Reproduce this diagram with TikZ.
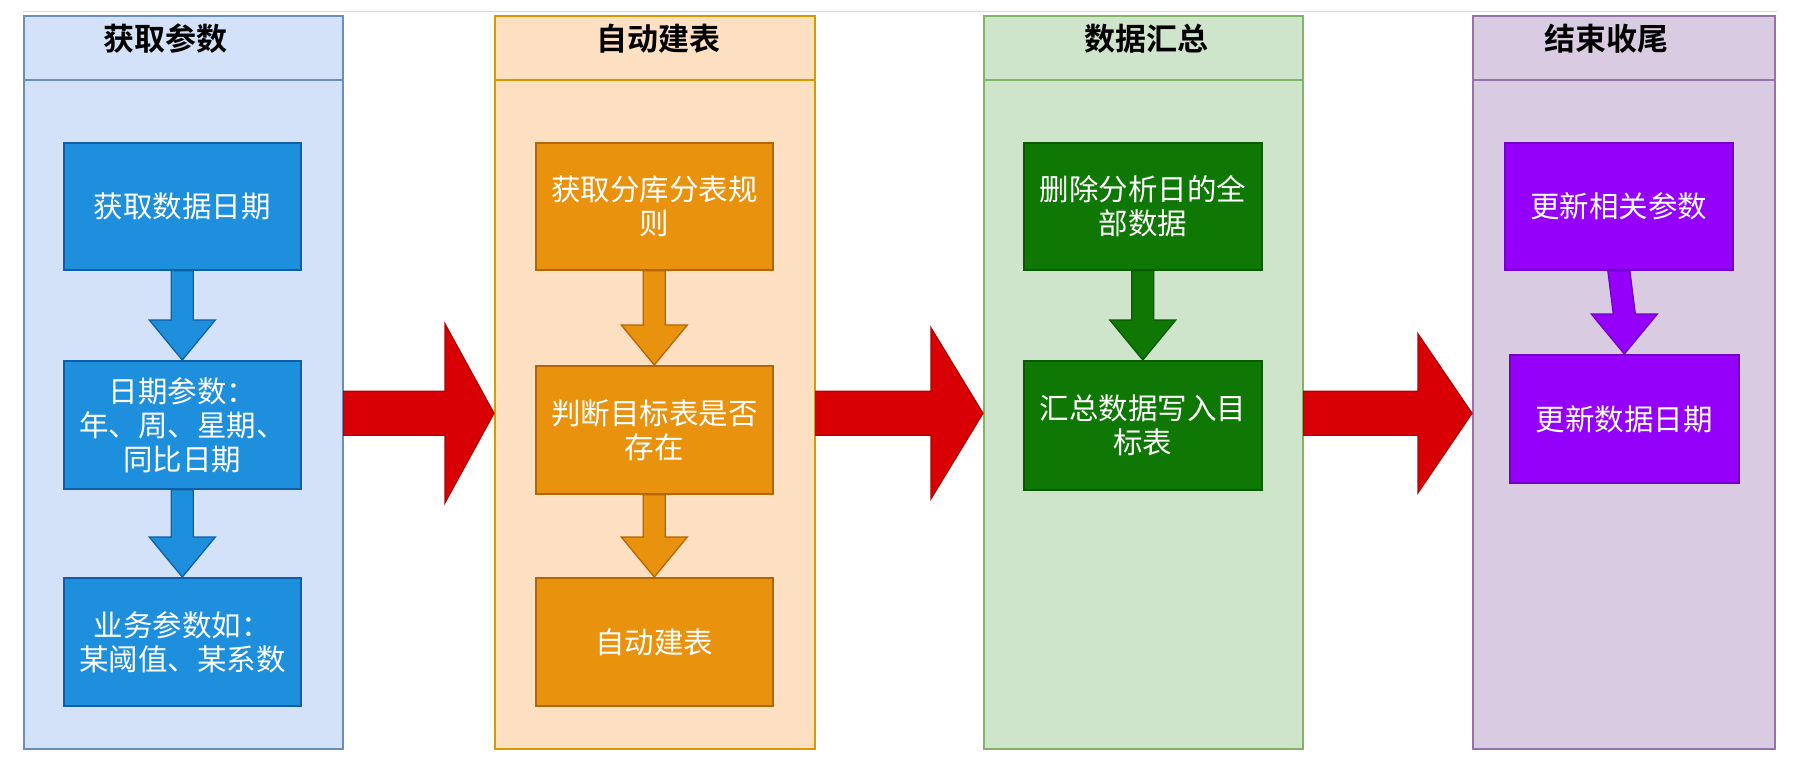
\documentclass[tikz,border=0pt]{standalone}
\usepackage{fontspec}
\setmainfont{Noto Sans CJK SC}[BoldFont={Noto Sans CJK SC Bold}]
\usetikzlibrary{calc}
\definecolor{laneAfill}{HTML}{D3E2F8}
\definecolor{laneAdraw}{HTML}{6C8EBF}
\definecolor{laneBfill}{HTML}{FDDFC2}
\definecolor{laneBdraw}{HTML}{D79B00}
\definecolor{laneCfill}{HTML}{CFE5CB}
\definecolor{laneCdraw}{HTML}{82B366}
\definecolor{laneDfill}{HTML}{D9CBE1}
\definecolor{laneDdraw}{HTML}{9673A6}
\definecolor{boxAfill}{HTML}{1E8FDD}
\definecolor{boxAdraw}{HTML}{0E5FA8}
\definecolor{boxBfill}{HTML}{E8920E}
\definecolor{boxBdraw}{HTML}{B46504}
\definecolor{boxCfill}{HTML}{0F7805}
\definecolor{boxCdraw}{HTML}{0A5A03}
\definecolor{boxDfill}{HTML}{9500FA}
\definecolor{boxDdraw}{HTML}{7300C8}
\definecolor{redfill}{HTML}{D90005}
\definecolor{reddraw}{HTML}{B00000}
\newcommand{\vblock}[3]{%
  \draw[#1] let \p1=(#2.south), \p2=(#3.north) in
    (\x1-11pt,\y1) -- (\x1+11pt,\y1) -- (\x2+11pt,\y2+40pt) -- (\x2+33pt,\y2+40pt)
    -- (\x2,\y2) -- (\x2-33pt,\y2+40pt) -- (\x2-11pt,\y2+40pt) -- cycle;}
\newcommand{\hblock}[4]{%
  \draw[redarrow] let \p1=($(#1.east)+(0,31)$), \p2=($(#2.west)+(0,31)$) in
    (\x1,\y1+22pt) -- (\x2-#4pt,\y1+22pt) -- (\x2-#4pt,\y1+#3pt) -- (\x2,\y2)
    -- (\x2-#4pt,\y1-#3pt) -- (\x2-#4pt,\y1-22pt) -- (\x1,\y1-22pt) -- cycle;}
\begin{document}
\begin{tikzpicture}[x=1pt,y=-1pt,
  lane/.style={draw, line width=1.6pt, anchor=north west, inner sep=0pt, minimum height=733pt},
  head/.style={draw, line width=1.6pt, anchor=north west, inner sep=0pt, minimum height=64pt},
  title/.style={font=\fontsize{31}{36}\selectfont\bfseries, anchor=center, inner sep=0pt},
  stepbox/.style={draw, line width=1.6pt, anchor=north west, inner sep=0pt, text=white,
    align=center, minimum height=127pt, font=\fontsize{29.5}{34}\selectfont},
  redarrow/.style={fill=redfill, draw=reddraw, line width=1.2pt, line join=miter},
  arrA/.style={fill=boxAfill, draw=boxAdraw, line width=1.3pt},
  arrB/.style={fill=boxBfill, draw=boxBdraw, line width=1.3pt},
  arrC/.style={fill=boxCfill, draw=boxCdraw, line width=1.3pt},
  arrD/.style={fill=boxDfill, draw=boxDdraw, line width=1.3pt}]
\useasboundingbox (0,0) rectangle (1802,774);
\fill[white] (0,0) rectangle (1802,774);
\draw[black!15, line width=0.8pt] (23,11) -- (1777,11);

% lanes
\node[lane, fill=laneAfill, draw=laneAdraw, minimum width=319pt] (L1) at (23,15) {};
\node[head, fill=laneAfill, draw=laneAdraw, minimum width=319pt] (H1) at (23,15) {};
\node[title] (T1) at (165,39) {获取参数};

\node[lane, fill=laneBfill, draw=laneBdraw, minimum width=320pt] (L2) at (494,15) {};
\node[head, fill=laneBfill, draw=laneBdraw, minimum width=320pt] (H2) at (494,15) {};
\node[title] (T2) at (658,39) {自动建表};

\node[lane, fill=laneCfill, draw=laneCdraw, minimum width=319pt] (L3) at (983,15) {};
\node[head, fill=laneCfill, draw=laneCdraw, minimum width=319pt] (H3) at (983,15) {};
\node[title] (T3) at (1146,39) {数据汇总};

\node[lane, fill=laneDfill, draw=laneDdraw, minimum width=302pt] (L4) at (1472,15) {};
\node[head, fill=laneDfill, draw=laneDdraw, minimum width=302pt] (H4) at (1472,15) {};
\node[title] (T4) at (1606,39) {结束收尾};

% boxes lane 1
\node[stepbox, fill=boxAfill, draw=boxAdraw, minimum width=237pt] (A1) at (63,142) {获取数据日期};
\node[stepbox, fill=boxAfill, draw=boxAdraw, minimum width=237pt, minimum height=128pt] (A2) at (63,360) {日期参数：\\年、周、星期、\\同比日期};
\node[stepbox, fill=boxAfill, draw=boxAdraw, minimum width=237pt, minimum height=128pt] (A3) at (63,577) {业务参数如：\\某阈值、某系数};

% boxes lane 2
\node[stepbox, fill=boxBfill, draw=boxBdraw, minimum width=237pt] (B1) at (535,142) {获取分库分表规\\则};
\node[stepbox, fill=boxBfill, draw=boxBdraw, minimum width=237pt, minimum height=128pt] (B2) at (535,365) {判断目标表是否\\存在};
\node[stepbox, fill=boxBfill, draw=boxBdraw, minimum width=237pt, minimum height=128pt] (B3) at (535,577) {自动建表};

% boxes lane 3
\node[stepbox, fill=boxCfill, draw=boxCdraw, minimum width=238pt] (C1) at (1023,142) {删除分析日的全\\部数据};
\node[stepbox, fill=boxCfill, draw=boxCdraw, minimum width=238pt, minimum height=129pt] (C2) at (1023,360) {汇总数据写入目\\标表};

% boxes lane 4
\node[stepbox, fill=boxDfill, draw=boxDdraw, minimum width=228pt] (D1) at (1504,142) {更新相关参数};
\node[stepbox, fill=boxDfill, draw=boxDdraw, minimum width=229pt, minimum height=128pt] (D2) at (1509,354) {更新数据日期};

% vertical block arrows
\vblock{arrA}{A1}{A2}
\vblock{arrA}{A2}{A3}
\vblock{arrB}{B1}{B2}
\vblock{arrB}{B2}{B3}
\vblock{arrC}{C1}{C2}
\vblock{arrD}{D1}{D2}

% red block arrows between lanes
\hblock{L1}{L2}{89.5}{49}
\hblock{L2}{L3}{85.5}{52}
\hblock{L3}{L4}{79.5}{54}
\end{tikzpicture}
\end{document}
